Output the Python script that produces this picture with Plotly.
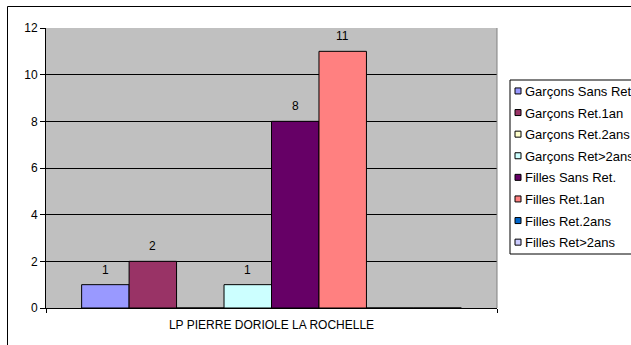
import plotly.graph_objects as go

category = ["LP PIERRE DORIOLE LA ROCHELLE"]
series_names = ["Garçons Sans Ret.", "Garçons Ret.1an", "Garçons Ret.2ans", "Garçons Ret>2ans",
                "Filles Sans Ret.", "Filles Ret.1an", "Filles Ret.2ans", "Filles Ret>2ans"]
series_values = [1, 2, 0, 1, 8, 11, 0, 0]
series_colors = ["#9999FF", "#993366", "#FFFFCC", "#CCFFFF",
                 "#660066", "#FF8080", "#0066CC", "#CCCCFF"]
y_ticks = [0, 2, 4, 6, 8, 10, 12]

font = "Liberation Sans, Arial, sans-serif"
W, H = 631, 345
ml, mr, mt, mb = 46, 134, 28, 37
plot_w = W - ml - mr
plot_h = H - mt - mb
bargap = 0.158
bar_px = plot_w * (1 - bargap) / len(series_values)


def px_x(p):
    return (p - ml) / plot_w


def px_y(p):
    return 1 - (p - mt) / plot_h


fig = go.Figure()

for i, (name, val, col) in enumerate(zip(series_names, series_values, series_colors)):
    fig.add_trace(go.Bar(x=category, y=[val], name=name, showlegend=False,
                         marker=dict(color=col, line=dict(color="black", width=1))))
    if val:
        fig.add_annotation(x=category[0], y=val, text=str(val), showarrow=False,
                           xshift=(i - (len(series_values) - 1) / 2) * bar_px,
                           yanchor="bottom", yshift=6,
                           font=dict(size=12, color="black", family=font))
    # legend symbols (legend) and legend texts (legend2), so the gap between them can be small
    fig.add_trace(go.Scatter(x=[None], y=[None], mode="markers", name=" ", legend="legend",
                             legendgroup="s%d" % i,
                             marker=dict(symbol="square", size=6, color=col,
                                         line=dict(color="black", width=1))))
    fig.add_trace(go.Scatter(x=[None], y=[None], mode="markers", name=name, legend="legend2",
                             legendgroup="t%d" % i,
                             marker=dict(symbol="square", size=6, color="rgba(0,0,0,0)",
                                         line=dict(width=0))))

# outer chart frame (right and bottom edges lie outside the picture)
fig.add_shape(type="line", xref="paper", yref="paper",
              x0=px_x(7.5), x1=px_x(7.5), y0=px_y(400), y1=px_y(6.5),
              line=dict(color="black", width=1), layer="above")
fig.add_shape(type="line", xref="paper", yref="paper",
              x0=px_x(7.5), x1=px_x(700), y0=px_y(6.5), y1=px_y(6.5),
              line=dict(color="black", width=1), layer="above")
# legend box
fig.add_shape(type="rect", xref="paper", yref="paper",
              x0=px_x(510), x1=px_x(700), y0=px_y(254), y1=px_y(80),
              line=dict(color="black", width=1), fillcolor="white", layer="below")
# grey right edge of plot area
fig.add_shape(type="line", xref="paper", yref="paper", x0=1, x1=1, y0=0, y1=1,
              line=dict(color="#808080", width=1))

leg_common = dict(xanchor="left", yanchor="top", bgcolor="rgba(0,0,0,0)", borderwidth=0,
                  font=dict(size=13, family=font, color="black"), itemwidth=30,
                  tracegroupgap=1.7, y=px_y(76))

fig.update_layout(
    width=W, height=H,
    margin=dict(l=ml, r=mr, t=mt, b=mb, autoexpand=False),
    paper_bgcolor="white", plot_bgcolor="#C0C0C0",
    barmode="group", bargap=bargap, bargroupgap=0,
    font=dict(family=font, size=12, color="black"),
    legend=dict(x=px_x(498), **leg_common),
    legend2=dict(x=px_x(485), **leg_common),
)
fig.update_xaxes(showgrid=False, showline=True, linecolor="black", linewidth=1,
                 ticks="outside", tickson="boundaries", ticklen=4, tickcolor="black",
                 tickfont=dict(size=12), ticklabelstandoff=6)
fig.update_yaxes(range=[0, 12], tickvals=y_ticks, showgrid=True, gridcolor="black", gridwidth=1,
                 showline=True, linecolor="black", linewidth=1, zeroline=False,
                 ticks="outside", ticklen=5, tickcolor="black", tickfont=dict(size=12))

fig.write_html("out.html", config={"displayModeBar": False},
               post_script="document.body.style.margin='0px';")
